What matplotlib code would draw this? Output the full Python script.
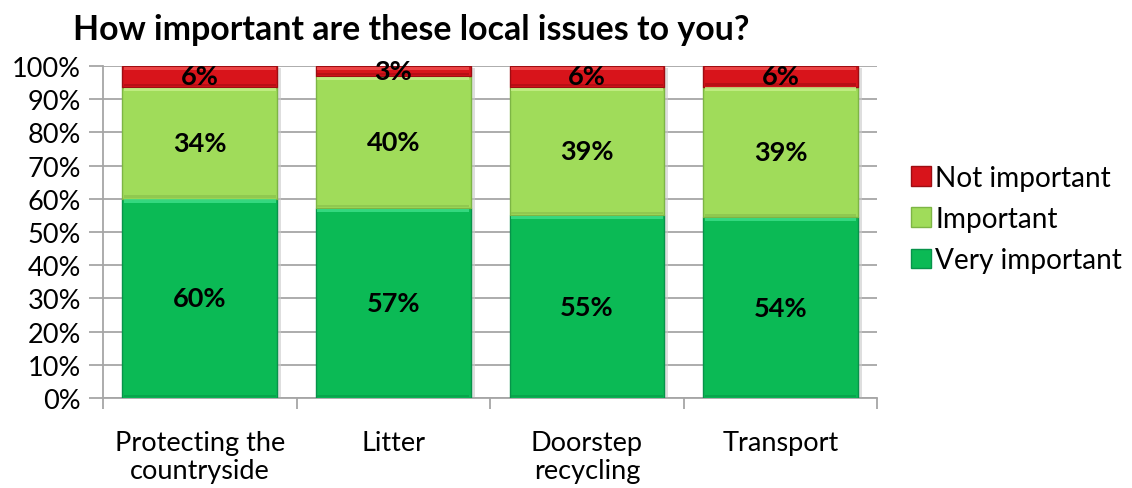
import matplotlib
matplotlib.use("Agg")
import matplotlib.pyplot as plt
from matplotlib.patches import Patch
import numpy as np

categories = ["Protecting the\ncountryside", "Litter", "Doorstep\nrecycling", "Transport"]
very_important = [60.0, 57.2, 55.1, 54.4]
important = [33.7, 39.8, 38.6, 39.4]
not_important = [6.3, 3.0, 6.3, 6.2]
series_names = ["Very important", "Important", "Not important"]
colors = ["#0BBA55", "#A0DC5A", "#D8141B"]
edge_colors = ["#07934A", "#7DB545", "#9E0D12"]
highlight = ["#3FE08A", "#C8F08A", "#F25050"]
shade = ["#08A04A", "#8CC44E", "#B00E14"]

plt.rcParams['font.family'] = ['Lato', 'DejaVu Sans']

fig = plt.figure(figsize=(11.32, 4.89), dpi=100)
ax = fig.add_axes([0.091, 0.184, 0.684, 0.679])

x = np.arange(len(categories))
width = 0.8
series = [very_important, important, not_important]
bottoms = np.zeros(len(categories))

# shadows
totals = np.sum(series, axis=0)
ax.bar(x + 0.02, totals, width, bottom=-0.6, color="#C8C8C8", zorder=2, alpha=0.6)

for i, vals in enumerate(series):
    vals = np.array(vals)
    ax.bar(x, vals, width, bottom=bottoms, color=colors[i], edgecolor=edge_colors[i],
           linewidth=1.0, zorder=3, label=series_names[i])
    # top highlight band
    ax.bar(x, [1.0] * len(vals), width * 0.98, bottom=bottoms + vals - 1.2,
           color=highlight[i], linewidth=0, zorder=4, alpha=0.8)
    # bottom shade band
    ax.bar(x, [0.8] * len(vals), width * 0.98, bottom=bottoms + 0.2,
           color=shade[i], linewidth=0, zorder=4, alpha=0.8)
    for xi, v, b in zip(x, vals, bottoms):
        ax.text(xi, b + v / 2, f"{round(v):d}%", ha="center", va="center",
                fontsize=19.5, fontweight="bold", color="black", zorder=6)
    bottoms = bottoms + vals

ax.set_xlim(-0.5, len(categories) - 0.5)
ax.set_ylim(0, 100)
ax.set_yticks(np.arange(0, 101, 10))
ax.set_yticklabels([f"{v}%" for v in range(0, 101, 10)], fontsize=19.5)
ax.yaxis.grid(True, color="#A6A6A6", linewidth=1.3, zorder=0)
ax.set_axisbelow(True)

ax.set_xticks(np.arange(-0.5, len(categories), 1.0))
ax.set_xticklabels([])
ax.set_xticks(x, minor=True)
ax.set_xticklabels(categories, minor=True, fontsize=19.5, linespacing=1.17)
ax.tick_params(axis="x", which="minor", length=0, pad=23)
ax.tick_params(axis="x", which="major", length=8, width=1.3, color="#A6A6A6")
ax.tick_params(axis="y", length=10, width=1.3, color="#A6A6A6", pad=6)

for s in ["top", "right"]:
    ax.spines[s].set_visible(False)
for s in ["left", "bottom"]:
    ax.spines[s].set_color("#A6A6A6")
    ax.spines[s].set_linewidth(1.3)

handles = [Patch(facecolor=colors[i], edgecolor=edge_colors[i], label=series_names[i]) for i in [2, 1, 0]]
fig.legend(handles=handles, loc="center left", bbox_to_anchor=(0.805, 0.550), frameon=False,
           fontsize=20.2, handlelength=0.7, handleheight=0.7, handletextpad=0.15,
           labelspacing=0.55, borderpad=0, borderaxespad=0)

fig.text(0.0645, 1 - 40 / 489, "How important are these local issues to you?", fontsize=24.4,
         fontweight="bold", ha="left", va="baseline")

fig.savefig("out.png", dpi=100)
